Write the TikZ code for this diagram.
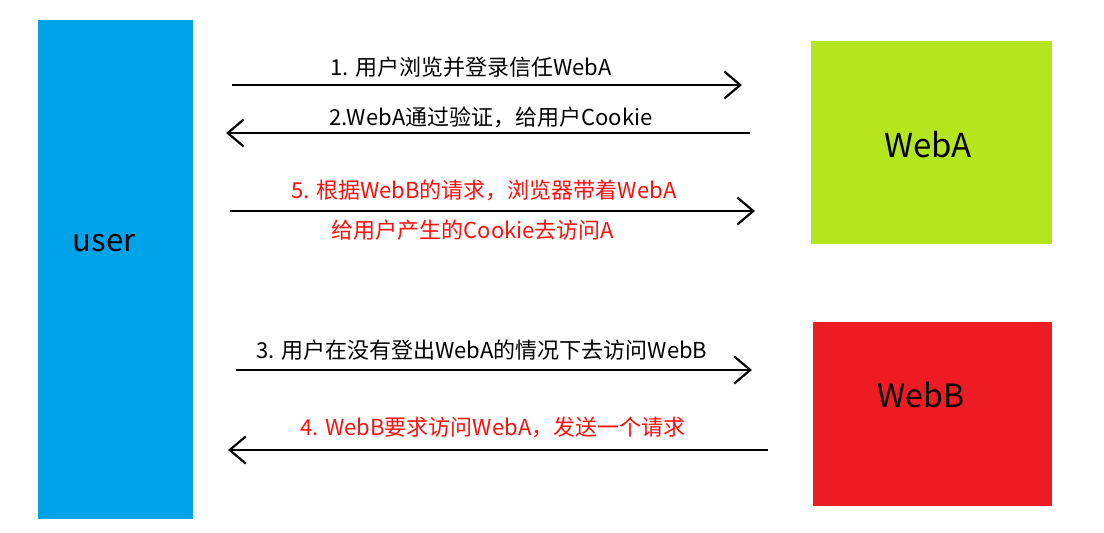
\documentclass[tikz,border=0pt]{standalone}
\usepackage{fontspec}
\setmainfont{Noto Sans CJK SC}
\usetikzlibrary{arrows.meta}
\definecolor{ublue}{HTML}{00A2E8}
\definecolor{agreen}{HTML}{B5E61D}
\definecolor{bred}{HTML}{ED1C24}
\definecolor{txtred}{HTML}{FF1010}
\begin{document}
\begin{tikzpicture}[x=1pt,y=-1pt,
  msg/.style={line width=2.2pt,-{Straight Barb[length=16pt,width=27pt,line width=2.2pt]}},
  lbl/.style={inner sep=0pt,font=\fontsize{22}{26}\selectfont},
  redlbl/.style={lbl,text=txtred},
  bigtxt/.style={font=\fontsize{32}{38}\selectfont}]
\useasboundingbox[fill=white] (0,0) rectangle (1104,533);
% boxes
\fill[ublue] (38,20) rectangle (193,519);
\node[bigtxt,font=\fontsize{31}{36}\selectfont] (user) at (104,243) {user};
\fill[agreen] (811,41) rectangle (1052,244);
\node[bigtxt,font=\fontsize{33}{38}\selectfont] (webA) at (928,145) {WebA};
\fill[bred] (813,322) rectangle (1052,506);
\node[bigtxt] (webB) at (921,395) {WebB};
% arrow endpoints
\coordinate (a1s) at (232,85);  \coordinate (a1e) at (742,85);
\coordinate (a2s) at (750,133); \coordinate (a2e) at (226,133);
\coordinate (a5s) at (230,211); \coordinate (a5e) at (755,211);
\coordinate (a3s) at (236,370); \coordinate (a3e) at (752,370);
\coordinate (a4s) at (768,450); \coordinate (a4e) at (228,450);
\draw[msg] (a1s) -- (a1e);
\draw[msg] (a2s) -- (a2e);
\draw[msg] (a5s) -- (a5e);
\draw[msg] (a3s) -- (a3e);
\draw[msg] (a4s) -- (a4e);
% labels
\node[lbl] (t1) at (471,67) {1. 用户浏览并登录信任WebA};
\node[lbl] (t2) at (491,117) {2.WebA通过验证，给用户Cookie};
\node[redlbl] (t5a) at (484,190) {5. 根据WebB的请求，浏览器带着WebA};
\node[redlbl] (t5b) at (473,230) {给用户产生的Cookie去访问A};
\node[lbl] (t3) at (482,350) {3. 用户在没有登出WebA的情况下去访问WebB};
\node[redlbl] (t4) at (493,427) {4. WebB要求访问WebA，发送一个请求};
\end{tikzpicture}
\end{document}
